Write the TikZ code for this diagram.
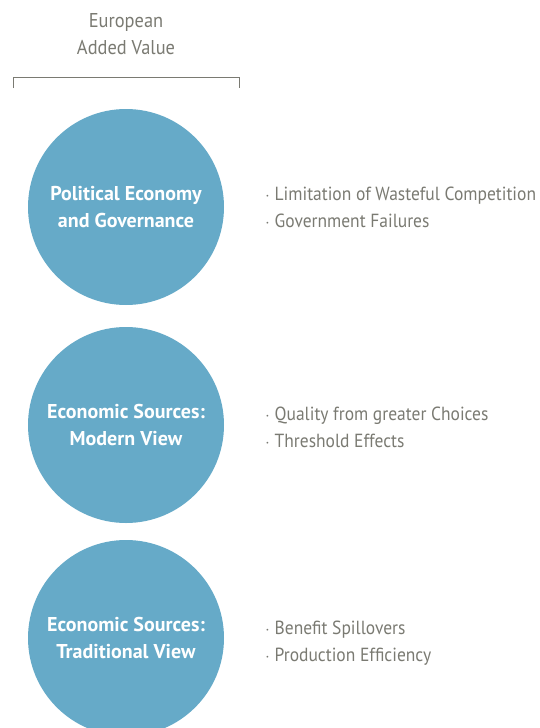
\documentclass[tikz,border=0pt]{standalone}
\usepackage{fontspec}
\setmainfont{PT Sans}[FakeStretch=0.92]
\newfontfamily\circlefont{PT Sans}
\usetikzlibrary{positioning}
\definecolor{eavblue}{HTML}{66AAC8}
\definecolor{eavgray}{HTML}{7A7A72}
\begin{document}
\begin{tikzpicture}[x=1pt,y=-1pt]

    \tikzset{
      source/.style={
        circle,
        fill=eavblue,
        text=white,
        minimum size=196pt,
        inner sep=0pt,
        align=center,
        font=\circlefont\fontsize{20}{27}\selectfont\bfseries,
      },
      items/.style={
        anchor=west,
        align=left,
        text=eavgray,
        inner sep=0pt,
        font=\fontsize{19}{27}\selectfont,
      },
    }
    \useasboundingbox (0,0) rectangle (539,728);
    \clip (0,0) rectangle (539,728);
	\node[items,anchor=center,align=center,font=\fontsize{20}{27}\selectfont] (title) at (126,34) {European\\Added Value};
	\draw[color=eavgray,line width=1pt] (13,88)--(13,77)--(239,77)--(239,88);
	\node[source] (pol) at (126,207) {Political Economy\\and Governance};
	\node[source] (mod) at (126,425) {Economic Sources:\\Modern View};
	\node[source] (trad) at (126,638) {Economic Sources:\\Traditional View};
	\node[items] (politems) at (265,207) {$\cdot$ Limitation of Wasteful Competition\\$\cdot$ Government Failures};
	\node[items] (moditems) at (265,427) {$\cdot$ Quality from greater Choices\\$\cdot$ Threshold Effects};
	\node[items] (traditems) at (265,643) {$\cdot$ Benefit Spillovers\\$\cdot$ Production Efficiency};

\end{tikzpicture}
\end{document}
